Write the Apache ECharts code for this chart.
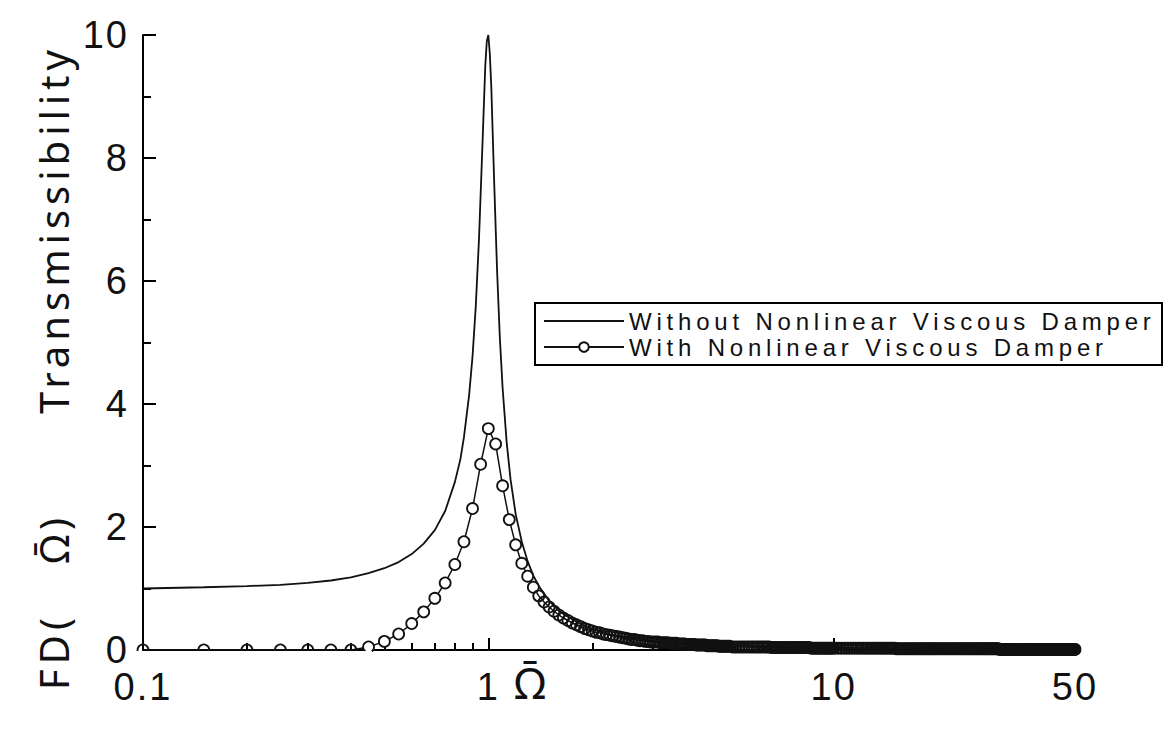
<!DOCTYPE html>
<html>
<head>
<meta charset="utf-8">
<script src="https://cdn.jsdelivr.net/npm/echarts@6/dist/echarts.min.js"></script>
<style>html,body{margin:0;padding:0;background:#fff;overflow:hidden}#c{width:1167px;height:729px}</style>
</head>
<body>
<div id="c"></div>
<script>
// Frequency ratio values (x) and transmissibility values (y)
const omegaLine = [0.1,0.15,0.2,0.25,0.3,0.35,0.4,0.45,0.5,0.55,0.6,0.65,0.7,0.75,0.8,0.83,0.85,0.88,0.9,0.92,0.94,0.96,0.98,0.99,1.0,1.01,1.02,1.04,1.06,1.08,1.1,1.13,1.16,1.2,1.25,1.3,1.35,1.4,1.5,1.6,1.7,1.8,2.0,2.25,2.5,3.0,3.5,4.0,5.0,6.0,8.0,10,15,20,30,50];
const tLine = [1.00,1.02,1.04,1.06,1.09,1.13,1.18,1.25,1.33,1.43,1.56,1.73,1.95,2.26,2.73,3.1,3.46,4.15,4.77,5.6,6.7,8.1,9.5,9.9,10.0,9.7,9.16,7.6,6.18,5.07,4.26,3.38,2.77,2.21,1.76,1.44,1.21,1.04,0.80,0.64,0.54,0.46,0.34,0.26,0.21,0.15,0.12,0.10,0.08,0.06,0.05,0.04,0.03,0.02,0.02,0.02];

const omegaCircle = [0.1,0.15,0.2,0.25,0.3,0.35,0.4,0.45,0.5,0.55,0.6,0.65,0.7,0.75,0.8,0.85,0.9,0.95,1.0,1.05,1.1,1.15,1.2,1.25,1.3,1.35,1.4,1.45,1.5,1.55,1.6,1.65,1.7,1.75,1.8,1.85,1.9,1.95,2.0,
  2.05,2.1,2.15,2.2,2.25,2.3,2.35,2.4,2.45,2.5,2.55,2.6,2.65,2.7,2.75,2.8,2.85,2.9,2.95,3.0,
  3.05,3.1,3.15,3.2,3.25,3.3,3.35,3.4,3.45,3.5,3.55,3.6,3.65,3.7,3.75,3.8,3.85,3.9,3.95,4.0,
  4.05,4.1,4.15,4.2,4.25,4.3,4.35,4.4,4.45,4.5,4.55,4.6,4.65,4.7,4.75,4.8,4.85,4.9,4.95,5.0,
  5.1,5.2,5.3,5.4,5.5,5.6,5.7,5.8,5.9,6.0,6.1,6.2,6.3,6.4,6.5,6.6,6.7,6.8,6.9,7.0,
  7.1,7.2,7.3,7.4,7.5,7.6,7.7,7.8,7.9,8.0,8.1,8.2,8.3,8.4,8.5,8.6,8.7,8.8,8.9,9.0,
  9.1,9.2,9.3,9.4,9.5,9.6,9.7,9.8,9.9,10.0,
  10.2,10.4,10.6,10.8,11,11.2,11.4,11.6,11.8,12,12.2,12.4,12.6,12.8,13,13.2,13.4,13.6,13.8,14,
  14.2,14.4,14.6,14.8,15,15.2,15.4,15.6,15.8,16,16.2,16.4,16.6,16.8,17,17.2,17.4,17.6,17.8,18,
  18.2,18.4,18.6,18.8,19,19.2,19.4,19.6,19.8,20,
  20.25,20.5,20.75,21,21.25,21.5,21.75,22,22.25,22.5,22.75,23,23.25,23.5,23.75,24,24.25,24.5,24.75,25,
  25.25,25.5,25.75,26,26.25,26.5,26.75,27,27.25,27.5,27.75,28,28.25,28.5,28.75,29,29.25,29.5,29.75,30,
  30.25,30.5,30.75,31,31.25,31.5,31.75,32,32.25,32.5,32.75,33,33.25,33.5,33.75,34,34.25,34.5,34.75,35,
  35.25,35.5,35.75,36,36.25,36.5,36.75,37,37.25,37.5,37.75,38,38.25,38.5,38.75,39,39.25,39.5,39.75,40,
  40.25,40.5,40.75,41,41.25,41.5,41.75,42,42.25,42.5,42.75,43,43.25,43.5,43.75,44,44.25,44.5,44.75,45,
  45.25,45.5,45.75,46,46.25,46.5,46.75,47,47.25,47.5,47.75,48,48.25,48.5,48.75,49,49.25,49.5,49.75,50];
const tCircle = [0,0,0,0,0,0,0,0.05,0.14,0.26,0.43,0.62,0.84,1.09,1.39,1.76,2.30,3.02,3.60,3.35,2.67,2.12,1.71,1.41,1.20,1.02,0.88,0.78,0.70,0.63,0.57,0.52,0.48,0.44,0.41,0.38,0.35,0.33,0.31,
  0.29,0.28,0.26,0.25,0.24,0.23,0.22,0.21,0.20,0.19,0.18,0.17,0.17,0.16,0.15,0.15,0.14,0.14,0.13,0.13,
  0.13,0.13,0.12,0.12,0.12,0.12,0.11,0.11,0.11,0.11,0.10,0.10,0.10,0.10,0.09,0.09,0.09,0.09,0.09,0.08,
  0.08,0.08,0.08,0.08,0.08,0.07,0.07,0.07,0.07,0.07,0.07,0.07,0.06,0.06,0.06,0.06,0.06,0.06,0.06,0.06,
  0.05,0.05,0.05,0.05,0.05,0.05,0.05,0.05,0.05,0.05,0.05,0.05,0.05,0.05,0.05,0.04,0.04,0.04,0.04,0.04,
  0.04,0.04,0.04,0.04,0.04,0.04,0.04,0.04,0.04,0.04,0.04,0.04,0.04,0.04,0.04,0.03,0.03,0.03,0.03,0.03,
  0.03,0.03,0.03,0.03,0.03,0.03,0.03,0.03,0.03,0.03,
  0.03,0.03,0.03,0.03,0.03,0.03,0.03,0.03,0.03,0.03,0.03,0.03,0.03,0.03,0.03,0.03,0.03,0.03,0.03,0.03,
  0.03,0.03,0.03,0.03,0.03,0.02,0.02,0.02,0.02,0.02,0.02,0.02,0.02,0.02,0.02,0.02,0.02,0.02,0.02,0.02,
  0.02,0.02,0.02,0.02,0.02,0.02,0.02,0.02,0.02,0.02,
  0.02,0.02,0.02,0.02,0.02,0.02,0.02,0.02,0.02,0.02,0.02,0.02,0.02,0.02,0.02,0.02,0.02,0.02,0.02,0.02,
  0.02,0.02,0.02,0.02,0.02,0.02,0.02,0.02,0.02,0.02,0.02,0.02,0.02,0.02,0.02,0.02,0.02,0.02,0.02,0.02,
  0.01,0.01,0.01,0.01,0.01,0.01,0.01,0.01,0.01,0.01,0.01,0.01,0.01,0.01,0.01,0.01,0.01,0.01,0.01,0.01,
  0.01,0.01,0.01,0.01,0.01,0.01,0.01,0.01,0.01,0.01,0.01,0.01,0.01,0.01,0.01,0.01,0.01,0.01,0.01,0.01,
  0.01,0.01,0.01,0.01,0.01,0.01,0.01,0.01,0.01,0.01,0.01,0.01,0.01,0.01,0.01,0.01,0.01,0.01,0.01,0.01,
  0.01,0.01,0.01,0.01,0.01,0.01,0.01,0.01,0.01,0.01,0.01,0.01,0.01,0.01,0.01,0.01,0.01,0.01,0.01,0.01];

const xLabels = [0.1, 1, 10, 50];
const xMajorTicks = [1, 10];
const xMinorTicks = [0.2,0.3,0.4,0.5,0.6,0.7,0.8,0.9,2,3,4,5,6,7,8,9,20,30,40];
const seriesNames = ['Without Nonlinear Viscous Damper', 'With Nonlinear Viscous Damper'];
const yTitle = 'FD( \u03A9\u0304)  Transmissibility';
const xTitle = '\u03A9\u0304';

const chart = echarts.init(document.getElementById('c'), null, {renderer: 'svg', width: 1167, height: 729});
const font = 'Liberation Sans';
const ink = '#111';
const baseX = {type: 'log', logBase: 10, min: 0.1, max: 50, position: 'bottom', splitLine: {show: false}};

// hollow symbols where circles pile up, white-filled where they stand apart
const circleItems = omegaCircle.map((x, i) => {
  const apart = x >= 0.45 && x <= 1.35;
  return {value: [x, tCircle[i]], itemStyle: {color: apart ? '#fff' : 'rgba(255,255,255,0)'}};
});

chart.setOption({
  animation: false,
  backgroundColor: '#fff',
  grid: {left: 143, right: 92, top: 35, bottom: 79, containLabel: false, outerBoundsMode: 'none'},
  legend: {
    orient: 'vertical', left: 535, top: 303,
    data: [{name: seriesNames[0], itemStyle: {opacity: 0}}, {name: seriesNames[1]}],
    itemWidth: 80, itemHeight: 12, itemGap: 2,
    padding: [6, 6, 6, 8],
    backgroundColor: '#fff', borderColor: '#000', borderWidth: 2, borderRadius: 0,
    textStyle: {fontFamily: font, fontSize: 24, color: ink, width: 527, lineHeight: 24}
  },
  xAxis: [
    Object.assign({}, baseX, {
      name: xTitle, nameLocation: 'middle', nameGap: 10, nameMoveOverlap: false,
      nameTextStyle: {fontFamily: 'Noto Sans', fontSize: 44, color: ink, padding: [0, 158, 0, 0]},
      axisLine: {show: true, lineStyle: {color: '#000', width: 2}},
      axisTick: {show: true, inside: true, length: 12, customValues: xMajorTicks, lineStyle: {color: '#000', width: 2}},
      axisLabel: {customValues: xLabels, fontFamily: font, fontSize: 38, color: ink, margin: 18,
        formatter: v => String(v)}
    }),
    Object.assign({}, baseX, {
      axisLine: {show: false},
      axisTick: {show: true, inside: true, length: 7, customValues: xMinorTicks, lineStyle: {color: '#000', width: 2}},
      axisLabel: {show: false}
    })
  ],
  yAxis: {
    type: 'value', min: 0, max: 10, interval: 2,
    name: yTitle, nameLocation: 'middle', nameRotate: 90, nameGap: 70,
    nameTextStyle: {fontFamily: 'Noto Sans', fontSize: 40, color: ink, padding: [0, 50, 0, 0]},
    axisLine: {show: true, lineStyle: {color: '#000', width: 2}},
    axisTick: {show: true, inside: true, length: 13, lineStyle: {color: '#000', width: 2}},
    minorTick: {show: true, splitNumber: 2, length: 8, lineStyle: {color: '#000', width: 2}},
    splitLine: {show: false},
    axisLabel: {fontFamily: font, fontSize: 38, color: ink, margin: 14}
  },
  graphic: [{
    // white strip just under the x axis line at low frequency: hides the lower halves of the markers lying on zero
    type: 'rect', left: 136, top: 651, z: 100, silent: true,
    shape: {width: 236, height: 8}, style: {fill: '#fff'}
  }],
  series: [
    {
      name: seriesNames[0], type: 'line', xAxisIndex: 0,
      data: omegaLine.map((x, i) => [x, tLine[i]]),
      symbol: 'none', lineStyle: {color: ink, width: 1.8},
      itemStyle: {color: ink}, z: 3
    },
    {
      name: seriesNames[1], type: 'line', xAxisIndex: 0,
      data: circleItems,
      symbol: 'circle', symbolSize: 11, showSymbol: true, showAllSymbol: true,
      lineStyle: {color: ink, width: 1.5},
      itemStyle: {color: '#fff', borderColor: ink, borderWidth: 1.8}, z: 4
    }
  ]
});

// the reference typesetting is widely letter-spaced
const tickTexts = ['0.1', '1', '10', '50', '0', '2', '4', '6', '8'];
function spaceText() {
  document.querySelectorAll('#c svg text').forEach(t => {
    const s = t.textContent;
    if (seriesNames.indexOf(s) >= 0) t.style.letterSpacing = '4.8px';
    else if (s === yTitle) { t.style.letterSpacing = '5px'; t.style.wordSpacing = '34px'; }
    else if (tickTexts.indexOf(s) >= 0) t.style.letterSpacing = '2px';
  });
}
spaceText();
chart.on('finished', spaceText);
setTimeout(spaceText, 50);
</script>
</body>
</html>
